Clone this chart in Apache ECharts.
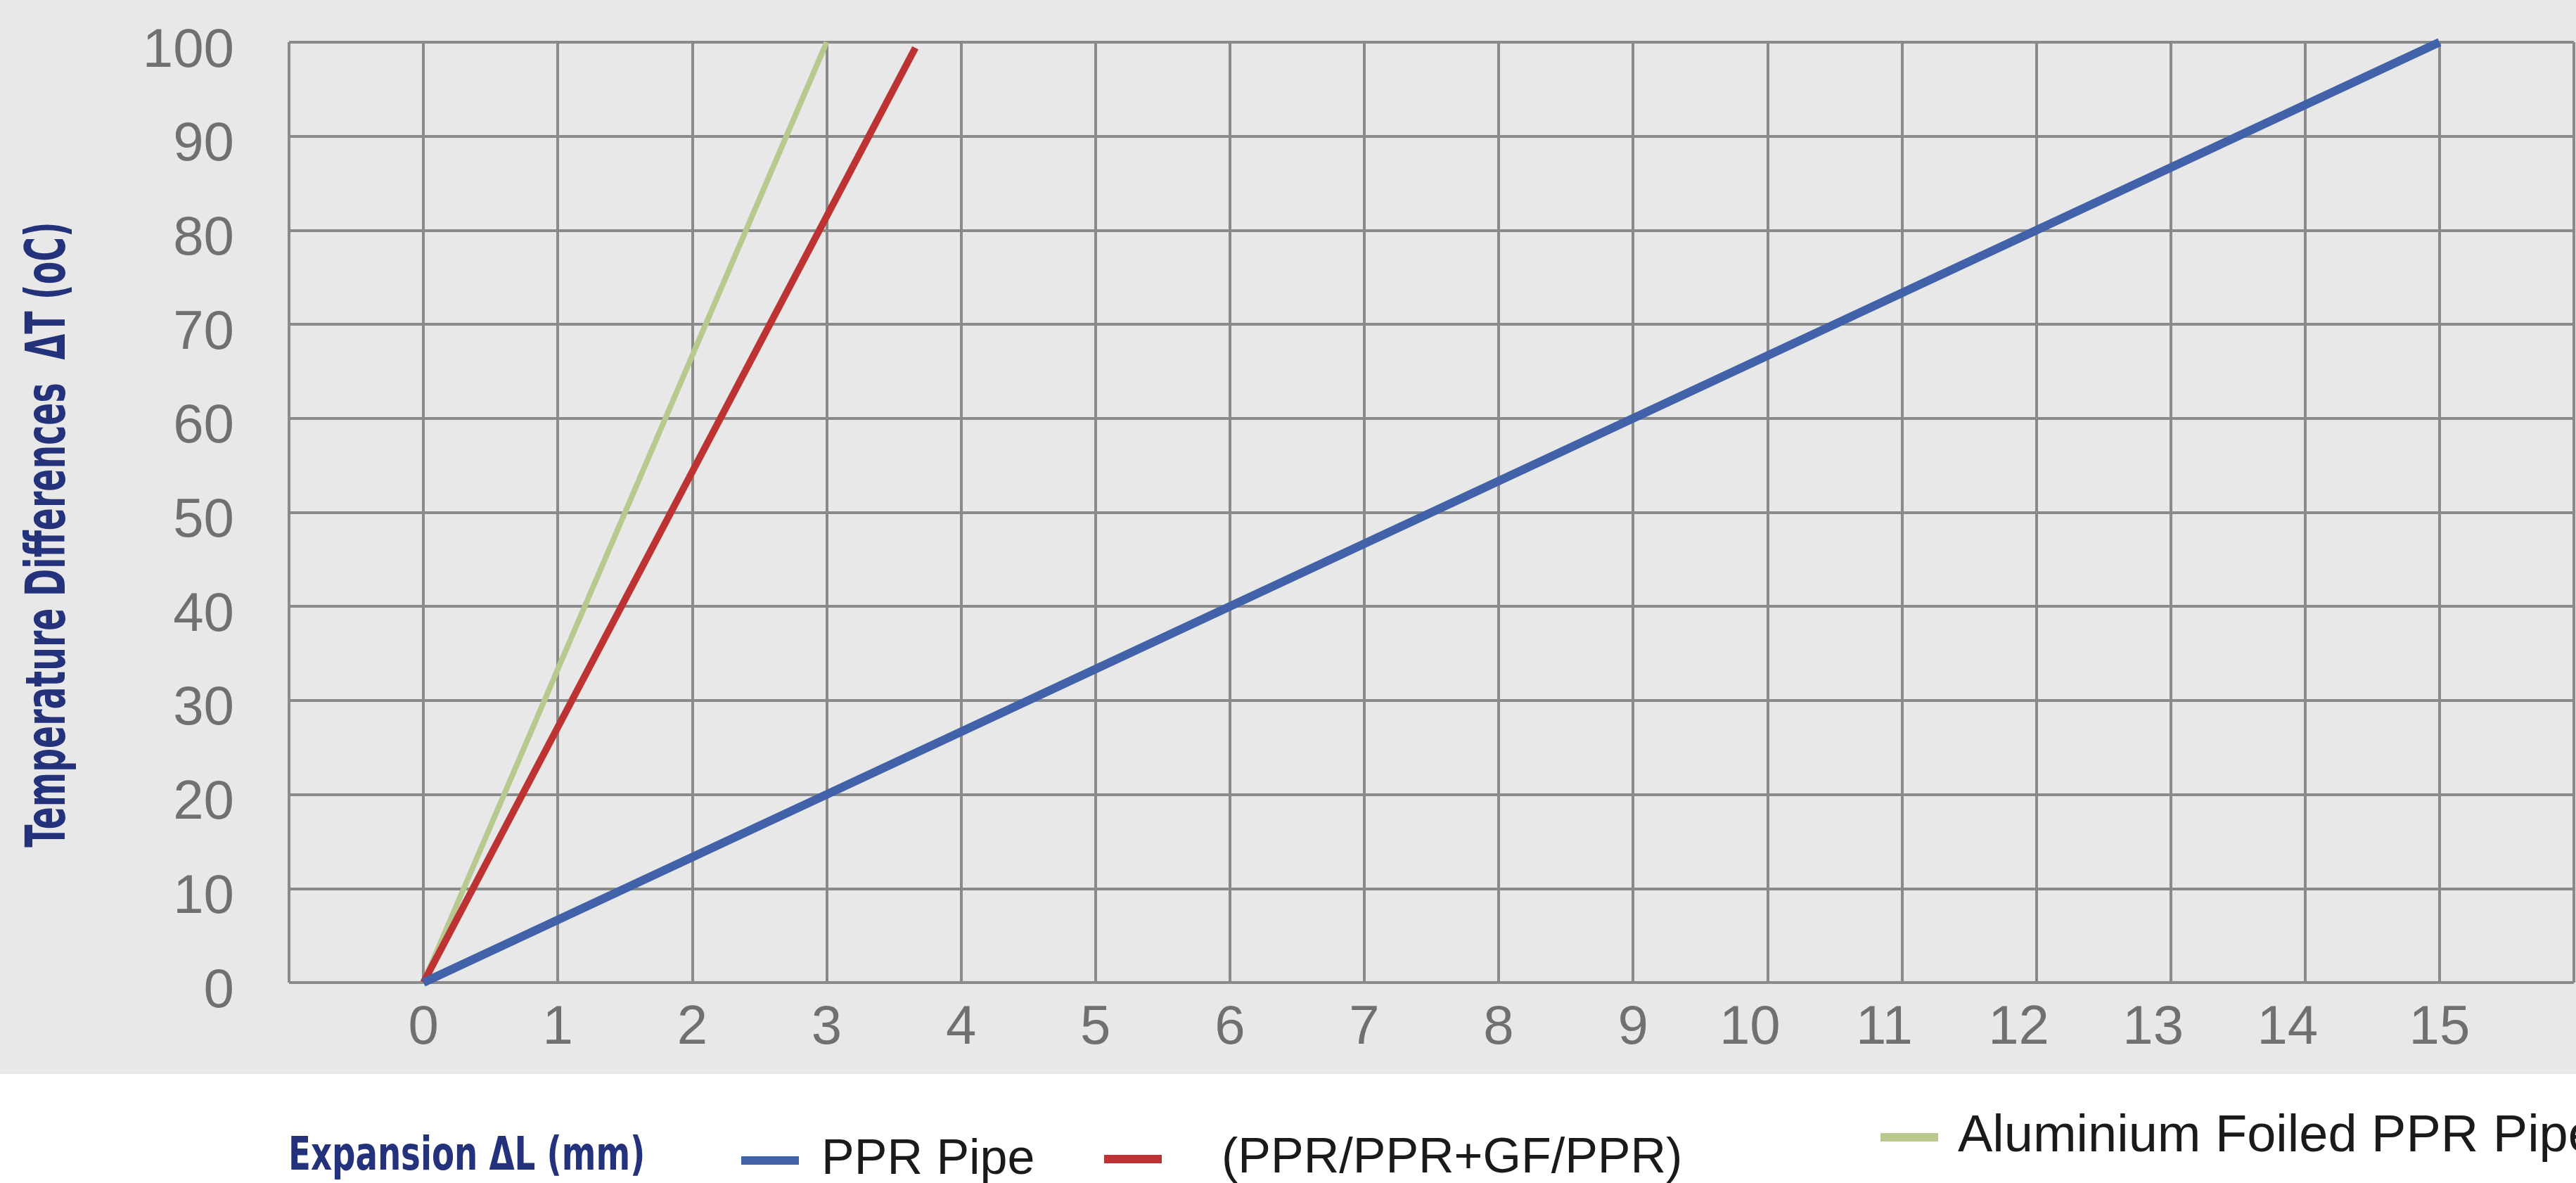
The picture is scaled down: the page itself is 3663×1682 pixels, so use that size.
<!DOCTYPE html>
<html>
<head>
<meta charset="utf-8">
<style>
  html, body { margin: 0; padding: 0; background: #ffffff; }
  #chart { width: 3663px; height: 1682px; }
</style>
<script src="https://cdn.jsdelivr.net/npm/echarts@6/dist/echarts.min.js"></script>
</head>
<body>
<div id="chart"></div>
<script>
// ---- data ----
const seriesNames = ['PPR Pipe', '(PPR/PPR+GF/PPR)', 'Aluminium Foiled PPR Pipe'];
const pprPipe = [[0, 0], [15, 100]];
const gfPipe = [[0, 0], [3.66, 99.4]];
const aluPipe = [[0, 0], [3, 100]];
const xRange = [-1, 16];   // mm
const yRange = [0, 100];   // oC
const xTitle = 'Expansion \u0394L (mm)';
const yTitle = 'Temperature Differences  \u0394T (oC)';

const SANS = "'Liberation Sans', Arial, sans-serif";
const NAVY = '#23327a';
const TICK = '#707070';
const GRIDC = '#8a8a8a';
const COLORS = { ppr: '#4161a9', gf: '#bd3333', alu: '#b8c990' };

const chart = echarts.init(document.getElementById('chart'), null, { renderer: 'canvas' });

const tickFont = { fontFamily: SANS, fontSize: 78, color: TICK };

const option = {
  backgroundColor: '#ffffff',
  animation: false,
  graphic: [
    {
      type: 'rect', z: -100, silent: true,
      shape: { x: 0, y: 0, width: 3663, height: 1527 },
      style: { fill: '#e8e8e8' }
    },
    {
      type: 'text', silent: true, x: 72, y: 760, rotation: Math.PI / 2, scaleX: 0.675,
      style: {
        text: yTitle, fill: NAVY, align: 'center', verticalAlign: 'middle',
        font: "bold 78px 'DejaVu Sans Condensed', 'DejaVu Sans', sans-serif"
      }
    },
    {
      type: 'text', silent: true, x: 410, y: 1646, scaleX: 0.786,
      style: {
        text: xTitle, fill: NAVY, align: 'left', verticalAlign: 'middle',
        font: "bold 66px 'DejaVu Sans Condensed', 'DejaVu Sans', sans-serif"
      }
    }
  ],
  grid: { left: 411, right: -24, top: 60, bottom: 285, containLabel: false },
  xAxis: {
    type: 'value', min: xRange[0], max: xRange[1], interval: 1,
    axisLine: { show: false }, axisTick: { show: false },
    splitLine: { show: true, lineStyle: { color: GRIDC, width: 4 } },
    axisLabel: {
      margin: 26, ...tickFont,
      formatter: function (v) {
        if (v < 0 || v > 15) return '';
        if (v >= 10 && v <= 14) return '{s|' + v + '}';
        return '' + v;
      },
      rich: { s: { ...tickFont, padding: [0, 50, 0, 0] } }
    }
  },
  yAxis: {
    type: 'value', min: yRange[0], max: yRange[1], interval: 10,
    axisLine: { show: false }, axisTick: { show: false },
    splitLine: { show: true, lineStyle: { color: GRIDC, width: 4 } },
    axisLabel: { margin: 78, ...tickFont, verticalAlign: 'top', lineHeight: 26 }
  },
  legend: [
    {
      data: [seriesNames[0]], left: 1054, top: 1615, padding: 0,
      icon: 'rect', itemWidth: 82, itemHeight: 12,
      textStyle: { fontFamily: SANS, fontSize: 70, color: '#1a1a1a', padding: [0, 0, 0, 27] }
    },
    {
      data: [seriesNames[1]], left: 1570, top: 1613, padding: 0,
      icon: 'rect', itemWidth: 82, itemHeight: 12,
      textStyle: { fontFamily: SANS, fontSize: 70, color: '#1a1a1a', padding: [0, 0, 26, 80] }
    },
    {
      data: [seriesNames[2]], left: 2674, top: 1580, padding: 0,
      icon: 'rect', itemWidth: 82, itemHeight: 12,
      textStyle: { fontFamily: SANS, fontSize: 74, color: '#1a1a1a', padding: [0, 0, 0, 23] }
    }
  ],
  series: [
    {
      name: seriesNames[2], type: 'line', data: aluPipe, showSymbol: false, clip: false,
      color: COLORS.alu, lineStyle: { width: 8, color: COLORS.alu }
    },
    {
      name: seriesNames[1], type: 'line', data: gfPipe, showSymbol: false, clip: false,
      color: COLORS.gf, lineStyle: { width: 10, color: COLORS.gf }
    },
    {
      name: seriesNames[0], type: 'line', data: pprPipe, showSymbol: false, clip: false,
      color: COLORS.ppr, lineStyle: { width: 12, color: COLORS.ppr }
    }
  ]
};

chart.setOption(option);
</script>
</body>
</html>
